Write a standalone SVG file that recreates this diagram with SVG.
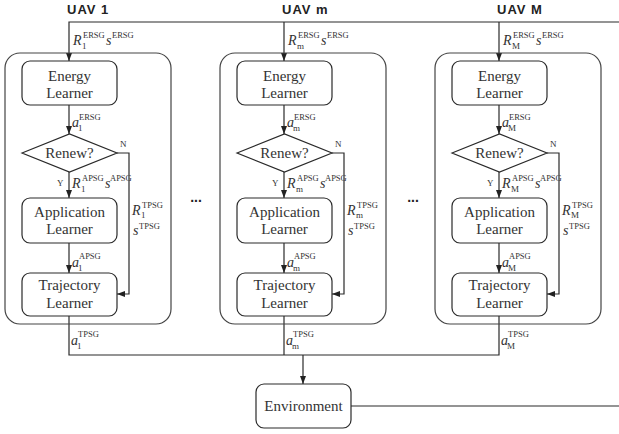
<svg xmlns="http://www.w3.org/2000/svg" width="619" height="434" viewBox="0 0 619 434">
<style>
.ln{fill:none;stroke:#2a2a2a;stroke-width:1.2}
.outer{fill:none;stroke:#444;stroke-width:1.2}
.bx{fill:#fff;stroke:#2a2a2a;stroke-width:1.2}
.t{font-family:'Liberation Serif','Tinos','DejaVu Serif','Times New Roman',serif;fill:#333;font-size:15px;text-anchor:middle}
.m{font-family:'Liberation Serif','Tinos','DejaVu Serif','Times New Roman',serif;fill:#333;font-size:14px}
.it{font-style:italic}
.sp{font-size:8.5px}
.sb{font-size:9px}
.yn{font-family:'Liberation Serif','Tinos','DejaVu Serif','Times New Roman',serif;fill:#333;font-size:9px}
.ttl{font-family:'Liberation Sans',Arial,sans-serif;font-weight:bold;font-size:13px;fill:#222;letter-spacing:1px}
.dots{font-family:'Liberation Sans',Arial,sans-serif;font-weight:bold;font-size:14px;fill:#222;text-anchor:middle}
</style>
<defs>
<marker id="ah" markerUnits="userSpaceOnUse" markerWidth="8" markerHeight="6" refX="8" refY="3" orient="auto">
<path d="M0,0 L8,3 L0,6 z" fill="#222"/>
</marker>
</defs>

<g id="connectors">
<path class="ln" d="M619,22 H69 V61" marker-end="url(#ah)"/>
<path class="ln" d="M284,22 V61" marker-end="url(#ah)"/>
<path class="ln" d="M499,22 V61" marker-end="url(#ah)"/>
<path class="ln" d="M69,316 V355 H499 V316"/>
<path class="ln" d="M284,316 V355"/>
<path class="ln" d="M303,355 V384" marker-end="url(#ah)"/>
<path class="ln" d="M351,406 H619"/>
</g>

<g id="uav-1">
<text class="ttl" x="67" y="14">UAV 1</text>
<rect class="outer" x="5" y="53" width="166" height="271" rx="15"/>
<path class="ln" d="M69,105 V134" marker-end="url(#ah)"/>
<path class="ln" d="M69,172 V198" marker-end="url(#ah)"/>
<path class="ln" d="M69,243 V273" marker-end="url(#ah)"/>
<path class="ln" d="M117,153 H129 V294 H117" marker-end="url(#ah)"/>
<g id="energy-1"><rect class="bx" x="22" y="61" width="95" height="44" rx="8"/><text class="t" x="69.5" y="81">Energy</text><text class="t" x="69.5" y="98">Learner</text></g>
<g id="renew-1"><path class="bx" d="M22,153 L69.5,134 L117,153 L69.5,172 Z"/><text class="t" x="69.5" y="158">Renew?</text></g>
<g id="app-1"><rect class="bx" x="22" y="198" width="95" height="45" rx="8"/><text class="t" x="69.5" y="217">Application</text><text class="t" x="69.5" y="234">Learner</text></g>
<g id="traj-1"><rect class="bx" x="22" y="273" width="95" height="43" rx="8"/><text class="t" x="69.5" y="290">Trajectory</text><text class="t" x="69.5" y="308">Learner</text></g>
<text class="yn" x="120" y="147">N</text>
<text class="yn" x="57" y="186">Y</text>
<text class="m"><tspan class="it" x="73" y="45">R</tspan><tspan class="sb" x="82" y="48.5">1</tspan><tspan class="sp" x="83" y="38">ERSG</tspan><tspan class="it" x="106" y="45">s</tspan><tspan class="sp" x="112" y="38">ERSG</tspan></text>
<text class="m"><tspan class="it" x="72" y="127">a</tspan><tspan class="sb" x="78" y="131">1</tspan><tspan class="sp" x="79" y="120">ERSG</tspan></text>
<text class="m"><tspan class="it" x="72" y="188">R</tspan><tspan class="sb" x="81" y="191.5">1</tspan><tspan class="sp" x="82" y="181">APSG</tspan><tspan class="it" x="105" y="188">s</tspan><tspan class="sp" x="110" y="181">APSG</tspan></text>
<text class="m"><tspan class="it" x="132" y="215">R</tspan><tspan class="sb" x="141" y="218">1</tspan><tspan class="sp" x="142" y="207.5">TPSG</tspan></text>
<text class="m"><tspan class="it" x="133" y="234.5">s</tspan><tspan class="sp" x="139" y="229">TPSG</tspan></text>
<text class="m"><tspan class="it" x="72" y="267">a</tspan><tspan class="sb" x="78" y="271">1</tspan><tspan class="sp" x="79" y="259">APSG</tspan></text>
<text class="m"><tspan class="it" x="71" y="345">a</tspan><tspan class="sb" x="77" y="349">1</tspan><tspan class="sp" x="78" y="337">TPSG</tspan></text>
</g>

<g id="uav-m" transform="translate(215,0)">
<text class="ttl" x="67" y="14">UAV m</text>
<rect class="outer" x="5" y="53" width="166" height="271" rx="15"/>
<path class="ln" d="M69,105 V134" marker-end="url(#ah)"/>
<path class="ln" d="M69,172 V198" marker-end="url(#ah)"/>
<path class="ln" d="M69,243 V273" marker-end="url(#ah)"/>
<path class="ln" d="M117,153 H129 V294 H117" marker-end="url(#ah)"/>
<g id="energy-m"><rect class="bx" x="22" y="61" width="95" height="44" rx="8"/><text class="t" x="69.5" y="81">Energy</text><text class="t" x="69.5" y="98">Learner</text></g>
<g id="renew-m"><path class="bx" d="M22,153 L69.5,134 L117,153 L69.5,172 Z"/><text class="t" x="69.5" y="158">Renew?</text></g>
<g id="app-m"><rect class="bx" x="22" y="198" width="95" height="45" rx="8"/><text class="t" x="69.5" y="217">Application</text><text class="t" x="69.5" y="234">Learner</text></g>
<g id="traj-m"><rect class="bx" x="22" y="273" width="95" height="43" rx="8"/><text class="t" x="69.5" y="290">Trajectory</text><text class="t" x="69.5" y="308">Learner</text></g>
<text class="yn" x="120" y="147">N</text>
<text class="yn" x="57" y="186">Y</text>
<text class="m"><tspan class="it" x="73" y="45">R</tspan><tspan class="sb" x="82" y="48.5">m</tspan><tspan class="sp" x="83" y="38">ERSG</tspan><tspan class="it" x="106" y="45">s</tspan><tspan class="sp" x="112" y="38">ERSG</tspan></text>
<text class="m"><tspan class="it" x="72" y="127">a</tspan><tspan class="sb" x="78" y="131">m</tspan><tspan class="sp" x="79" y="120">ERSG</tspan></text>
<text class="m"><tspan class="it" x="72" y="188">R</tspan><tspan class="sb" x="81" y="191.5">m</tspan><tspan class="sp" x="82" y="181">APSG</tspan><tspan class="it" x="105" y="188">s</tspan><tspan class="sp" x="110" y="181">APSG</tspan></text>
<text class="m"><tspan class="it" x="132" y="215">R</tspan><tspan class="sb" x="141" y="218">m</tspan><tspan class="sp" x="142" y="207.5">TPSG</tspan></text>
<text class="m"><tspan class="it" x="133" y="234.5">s</tspan><tspan class="sp" x="139" y="229">TPSG</tspan></text>
<text class="m"><tspan class="it" x="72" y="267">a</tspan><tspan class="sb" x="78" y="271">m</tspan><tspan class="sp" x="79" y="259">APSG</tspan></text>
<text class="m"><tspan class="it" x="71" y="345">a</tspan><tspan class="sb" x="77" y="349">m</tspan><tspan class="sp" x="78" y="337">TPSG</tspan></text>
</g>

<g id="uav-M" transform="translate(430,0)">
<text class="ttl" x="67" y="14">UAV M</text>
<rect class="outer" x="5" y="53" width="166" height="271" rx="15"/>
<path class="ln" d="M69,105 V134" marker-end="url(#ah)"/>
<path class="ln" d="M69,172 V198" marker-end="url(#ah)"/>
<path class="ln" d="M69,243 V273" marker-end="url(#ah)"/>
<path class="ln" d="M117,153 H129 V294 H117" marker-end="url(#ah)"/>
<g id="energy-M"><rect class="bx" x="22" y="61" width="95" height="44" rx="8"/><text class="t" x="69.5" y="81">Energy</text><text class="t" x="69.5" y="98">Learner</text></g>
<g id="renew-M"><path class="bx" d="M22,153 L69.5,134 L117,153 L69.5,172 Z"/><text class="t" x="69.5" y="158">Renew?</text></g>
<g id="app-M"><rect class="bx" x="22" y="198" width="95" height="45" rx="8"/><text class="t" x="69.5" y="217">Application</text><text class="t" x="69.5" y="234">Learner</text></g>
<g id="traj-M"><rect class="bx" x="22" y="273" width="95" height="43" rx="8"/><text class="t" x="69.5" y="290">Trajectory</text><text class="t" x="69.5" y="308">Learner</text></g>
<text class="yn" x="120" y="147">N</text>
<text class="yn" x="57" y="186">Y</text>
<text class="m"><tspan class="it" x="73" y="45">R</tspan><tspan class="sb" x="82" y="48.5">M</tspan><tspan class="sp" x="83" y="38">ERSG</tspan><tspan class="it" x="106" y="45">s</tspan><tspan class="sp" x="112" y="38">ERSG</tspan></text>
<text class="m"><tspan class="it" x="72" y="127">a</tspan><tspan class="sb" x="78" y="131">M</tspan><tspan class="sp" x="79" y="120">ERSG</tspan></text>
<text class="m"><tspan class="it" x="72" y="188">R</tspan><tspan class="sb" x="81" y="191.5">M</tspan><tspan class="sp" x="82" y="181">APSG</tspan><tspan class="it" x="105" y="188">s</tspan><tspan class="sp" x="110" y="181">APSG</tspan></text>
<text class="m"><tspan class="it" x="132" y="215">R</tspan><tspan class="sb" x="141" y="218">M</tspan><tspan class="sp" x="142" y="207.5">TPSG</tspan></text>
<text class="m"><tspan class="it" x="133" y="234.5">s</tspan><tspan class="sp" x="139" y="229">TPSG</tspan></text>
<text class="m"><tspan class="it" x="72" y="267">a</tspan><tspan class="sb" x="78" y="271">M</tspan><tspan class="sp" x="79" y="259">APSG</tspan></text>
<text class="m"><tspan class="it" x="71" y="345">a</tspan><tspan class="sb" x="77" y="349">M</tspan><tspan class="sp" x="78" y="337">TPSG</tspan></text>
</g>

<text class="dots" x="196" y="202">...</text>
<text class="dots" x="413" y="202">...</text>

<g id="environment"><rect class="bx" x="256" y="384" width="95" height="44" rx="8"/><text class="t" x="303.5" y="411">Environment</text></g>
</svg>
